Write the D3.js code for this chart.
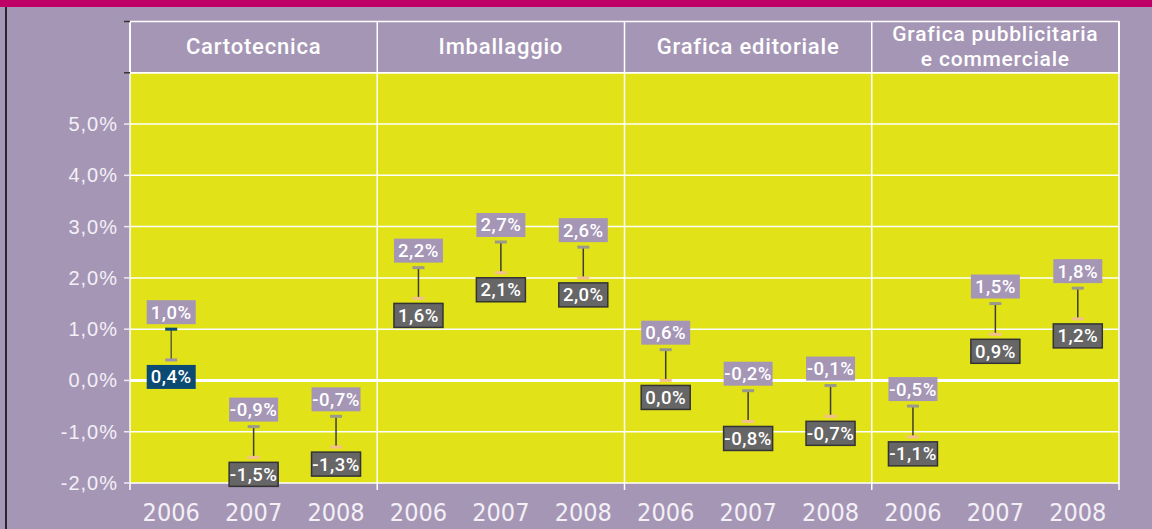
<!DOCTYPE html>
<html>
<head>
<meta charset="utf-8">
<script src="https://cdn.jsdelivr.net/npm/d3@7"></script>
<style>
  html, body { margin: 0; padding: 0; background: #a696b6; }
  svg { display: block; }
</style>
</head>
<body>
<svg id="chart"></svg>
<script>
// dati
var groups = ["Cartotecnica", "Imballaggio", "Grafica editoriale", "Grafica pubblicitaria\ne commerciale"]
var years = ["2006", "2007", "2008"]
var highValues = [1.0, -0.9, -0.7, 2.2, 2.7, 2.6, 0.6, -0.2, -0.1, -0.5, 1.5, 1.8]
var lowValues = [0.4, -1.5, -1.3, 1.6, 2.1, 2.0, 0.0, -0.8, -0.7, -1.1, 0.9, 1.2]
var yTicks = [-2, -1, 0, 1, 2, 3, 4, 5]

var rows = []
groups.forEach((g, gi) => {
    years.forEach((y, yi) => {
        var i = gi * years.length + yi
        rows.push({key: g + "|" + y, group: g, year: y, hi: highValues[i], lo: lowValues[i], first: i === 0})
    })
})

var it = d3.formatLocale({decimal: ",", thousands: ".", grouping: [3], currency: ["€", ""], minus: "-"})
var fmtPct = d => it.format(".1f")(d) + "%"

var dimensions = {
    width: 1152,
    height: 529,
    margin: {top: 21.5, bottom: 46, left: 130, right: 33}
}

var svg = d3.select("#chart")
    .attr("width", dimensions.width)
    .attr("height", dimensions.height)

var colors = {
    bg: "#a696b6",
    plot: "#e2e219",
    band: "#be0066",
    lowBox: "#666666",
    lowBoxFirst: "#0b4a72",
    capTop: "#9a9a8c",
    capBottom: "#f3c08c",
    stem: "#3d3d2a"
}

var x0 = dimensions.margin.left
var x1 = dimensions.width - dimensions.margin.right

var yScale = d3.scaleLinear()
    .domain([-2, 7])
    .range([dimensions.height - dimensions.margin.bottom, dimensions.margin.top])

var groupScale = d3.scaleBand()
    .domain(groups)
    .range([x0, x1])

var xScale = d3.scaleBand()
    .domain(rows.map(d => d.key))
    .range([x0, x1])

// sfondo
svg.append("rect")
    .attr("width", dimensions.width).attr("height", dimensions.height)
    .attr("fill", colors.bg)
svg.append("rect")
    .attr("x", 0).attr("y", 0)
    .attr("width", dimensions.width).attr("height", 7)
    .attr("fill", colors.band)
svg.append("line")
    .attr("x1", 6).attr("x2", 6)
    .attr("y1", 7).attr("y2", dimensions.height)
    .attr("stroke", "#2a2530").attr("stroke-width", 2)

// area gialla
svg.append("rect")
    .attr("x", x0).attr("y", yScale(6))
    .attr("width", x1 - x0).attr("height", yScale(-2) - yScale(6))
    .attr("fill", colors.plot)

// griglia
svg.append("g")
    .selectAll("line")
    .data(yTicks.concat([6]))
    .enter()
    .append("line")
    .attr("x1", x0).attr("x2", x1)
    .attr("y1", d => yScale(d)).attr("y2", d => yScale(d))
    .attr("stroke", "white")
    .attr("stroke-width", d => d === 0 ? 3 : 1.5)

// intestazione
svg.append("rect")
    .attr("x", x0).attr("y", yScale(7))
    .attr("width", x1 - x0).attr("height", yScale(6) - yScale(7))
    .attr("fill", "none").attr("stroke", "white").attr("stroke-width", 1.5)

svg.append("g")
    .selectAll("line")
    .data(groups)
    .enter()
    .append("line")
    .attr("x1", d => groupScale(d)).attr("x2", d => groupScale(d))
    .attr("y1", yScale(7)).attr("y2", yScale(-2) + 7)
    .attr("stroke", "white").attr("stroke-width", 1.5)
svg.append("line")
    .attr("x1", x1).attr("x2", x1)
    .attr("y1", yScale(7)).attr("y2", yScale(-2) + 7)
    .attr("stroke", "white").attr("stroke-width", 1.5)

// una riga per ogni testo dell'intestazione
var headerLines = []
groups.forEach(g => {
    var parts = g.split("\n")
    parts.forEach((p, i) => headerLines.push({group: g, text: p, i: i, n: parts.length}))
})
var mid = (yScale(7) + yScale(6)) / 2
svg.append("g")
    .selectAll("text")
    .data(headerLines)
    .enter()
    .append("text")
    .attr("x", d => groupScale(d.group) + groupScale.bandwidth() / 2)
    .attr("y", d => d.n === 1 ? mid + 6.5 : mid - 12.5 + 6.5 + d.i * 25)
    .attr("text-anchor", "middle")
    .attr("font-family", "Roboto, 'Liberation Sans', sans-serif")
    .attr("font-weight", 500)
    .attr("font-size", d => d.n === 1 ? 22 : 21)
    .attr("letter-spacing", 0.8)
    .attr("fill", "white")
    .text(d => d.text)

// asse y
var yAxis = svg.append("g")
yAxis.selectAll("line")
    .data(yTicks.concat([6, 7]))
    .enter()
    .append("line")
    .attr("x1", x0 - 6).attr("x2", x0)
    .attr("y1", d => yScale(d)).attr("y2", d => yScale(d))
    .attr("stroke", d => d > 5 ? "#333" : "#eeeaf2")
    .attr("stroke-width", 1.5)
yAxis.selectAll("text")
    .data(yTicks)
    .enter()
    .append("text")
    .attr("x", x0 - 12)
    .attr("y", d => yScale(d) + 7)
    .attr("text-anchor", "end")
    .attr("font-family", "'Liberation Sans', Arial, sans-serif")
    .attr("font-size", 20)
    .attr("letter-spacing", 1)
    .attr("fill", "#f3f0f6")
    .text(d => fmtPct(d))

// asse x
svg.append("g")
    .selectAll("text")
    .data(rows)
    .enter()
    .append("text")
    .attr("x", d => xScale(d.key) + xScale.bandwidth() / 2)
    .attr("y", 521)
    .attr("text-anchor", "middle")
    .attr("font-family", "'Liberation Sans Narrow', 'DejaVu Sans Condensed', sans-serif")
    .attr("font-size", 25)
    .attr("fill", "#f3f0f6")
    .text(d => d.year)

// barre di intervallo
var marks = svg.append("g")
    .selectAll("g")
    .data(rows)
    .enter()
    .append("g")
    .attr("transform", d => `translate(${xScale(d.key) + xScale.bandwidth() / 2},0)`)

marks.append("line")
    .attr("y1", d => yScale(d.hi)).attr("y2", d => yScale(d.lo))
    .attr("stroke", d => d.first ? "#5f6038" : colors.stem)
    .attr("stroke-width", 1.5)
marks.append("rect")
    .attr("x", -6).attr("y", d => yScale(d.hi) - 1.5)
    .attr("width", 12).attr("height", 3)
    .attr("fill", d => d.first ? colors.lowBoxFirst : colors.capTop)
marks.append("rect")
    .attr("x", -6).attr("y", d => yScale(d.lo) - 1.5)
    .attr("width", 12).attr("height", 3)
    .attr("fill", d => d.first ? "#9d93ad" : colors.capBottom)

// etichette
var boxW = 49, boxH = 24
marks.append("rect")
    .attr("x", -boxW / 2).attr("y", d => yScale(d.hi) - 5 - boxH)
    .attr("width", boxW).attr("height", boxH)
    .attr("fill", colors.bg)
marks.append("text")
    .attr("y", d => yScale(d.hi) - 5 - boxH / 2 + 6.5)
    .attr("text-anchor", "middle")
    .attr("font-family", "Roboto, sans-serif")
    .attr("font-weight", 500)
    .attr("font-size", 18.5)
    .attr("letter-spacing", 0.5)
    .attr("fill", "white")
    .text(d => fmtPct(d.hi))

marks.append("rect")
    .attr("x", -boxW / 2).attr("y", d => yScale(d.lo) + 5)
    .attr("width", boxW).attr("height", boxH)
    .attr("fill", d => d.first ? colors.lowBoxFirst : colors.lowBox)
    .attr("stroke", d => d.first ? "none" : "#333")
    .attr("stroke-width", 1.5)
marks.append("text")
    .attr("y", d => yScale(d.lo) + 5 + boxH / 2 + 6.5)
    .attr("text-anchor", "middle")
    .attr("font-family", "Roboto, sans-serif")
    .attr("font-weight", 500)
    .attr("font-size", 18.5)
    .attr("letter-spacing", 0.5)
    .attr("fill", "white")
    .text(d => fmtPct(d.lo))
</script>
</body>
</html>
